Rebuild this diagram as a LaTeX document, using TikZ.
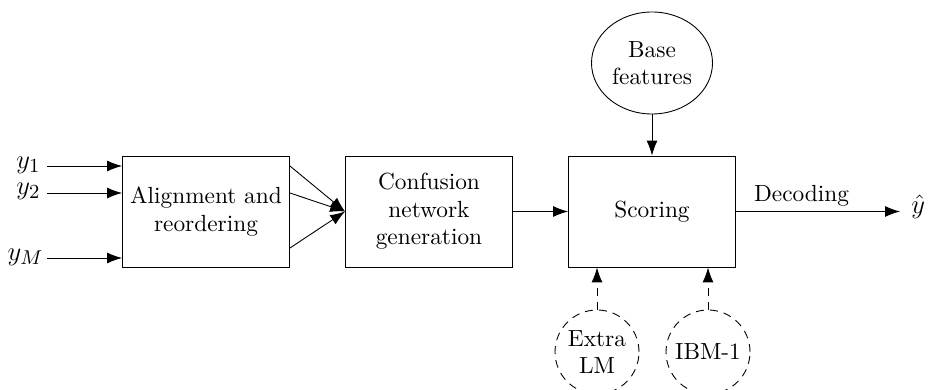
\documentclass[tikz,border=0pt]{standalone}
\usetikzlibrary{arrows.meta,shapes.geometric}
\begin{document}
\begin{tikzpicture}[x=0.45pt,y=-0.45pt,
  font=\fontsize{10.5}{12.4}\selectfont,
  box/.style={draw,rectangle,minimum width=167*0.45pt,minimum height=111*0.45pt,align=center,inner sep=0pt},
  feat/.style={draw,ellipse,minimum width=121*0.45pt,minimum height=102*0.45pt,align=center,inner sep=0pt},
  extra/.style={draw,dash pattern=on 3.6pt off 2.7pt,circle,minimum size=84*0.45pt,align=center,inner sep=0pt},
  arr/.style={-{Latex[length=6.7pt,width=4.9pt]}},
  dasharr/.style={arr,dash pattern=on 3.6pt off 2.7pt},
  lbl/.style={inner sep=0pt,font=\fontsize{13}{15}\selectfont}]
\clip (0,0) rectangle (930,390);
\node[box] (align) at (206,211.5) {Alignment and\\reordering};
\node[box] (conf) at (429,211.5) {Confusion\\network\\generation};
\node[box] (score) at (652,211.5) {Scoring};
\node[feat] (base) at (652,63) {Base\\features};
\node[extra] (lm) at (597,352) {Extra\\LM};
\node[extra] (ibm) at (708,352) {IBM-1};
\node[lbl,anchor=east] (y1) at (41,165) {$y_1$};
\node[lbl,anchor=east] (y2) at (41,191) {$y_2$};
\node[lbl,anchor=east] (yM) at (44,257) {$y_M$};
\node[lbl,anchor=west] (yhat) at (911,207) {$\hat{y}$};
\coordinate (a1) at (align.east |- 0,166);
\coordinate (a2) at (align.east |- 0,193);
\coordinate (a3) at (align.east |- 0,248);
\draw[arr] (47,166) -- (align.west |- 0,166);
\draw[arr] (47,193) -- (align.west |- 0,193);
\draw[arr] (47,258) -- (align.west |- 0,258);
\draw[arr] (a1) -- (conf.west);
\draw[arr] (a2) -- (conf.west);
\draw[arr] (a3) -- (conf.west);
\draw[arr] (conf) -- (score);
\draw[arr] (base) -- (score);
\coordinate (out) at (900,211.5);
\draw[arr] (score.east) -- node[pos=0.4,above=2pt,inner sep=0pt] {Decoding} (out);
\draw[dasharr] (lm) -- (lm |- score.south);
\draw[dasharr] (ibm) -- (ibm |- score.south);
\end{tikzpicture}
\end{document}
